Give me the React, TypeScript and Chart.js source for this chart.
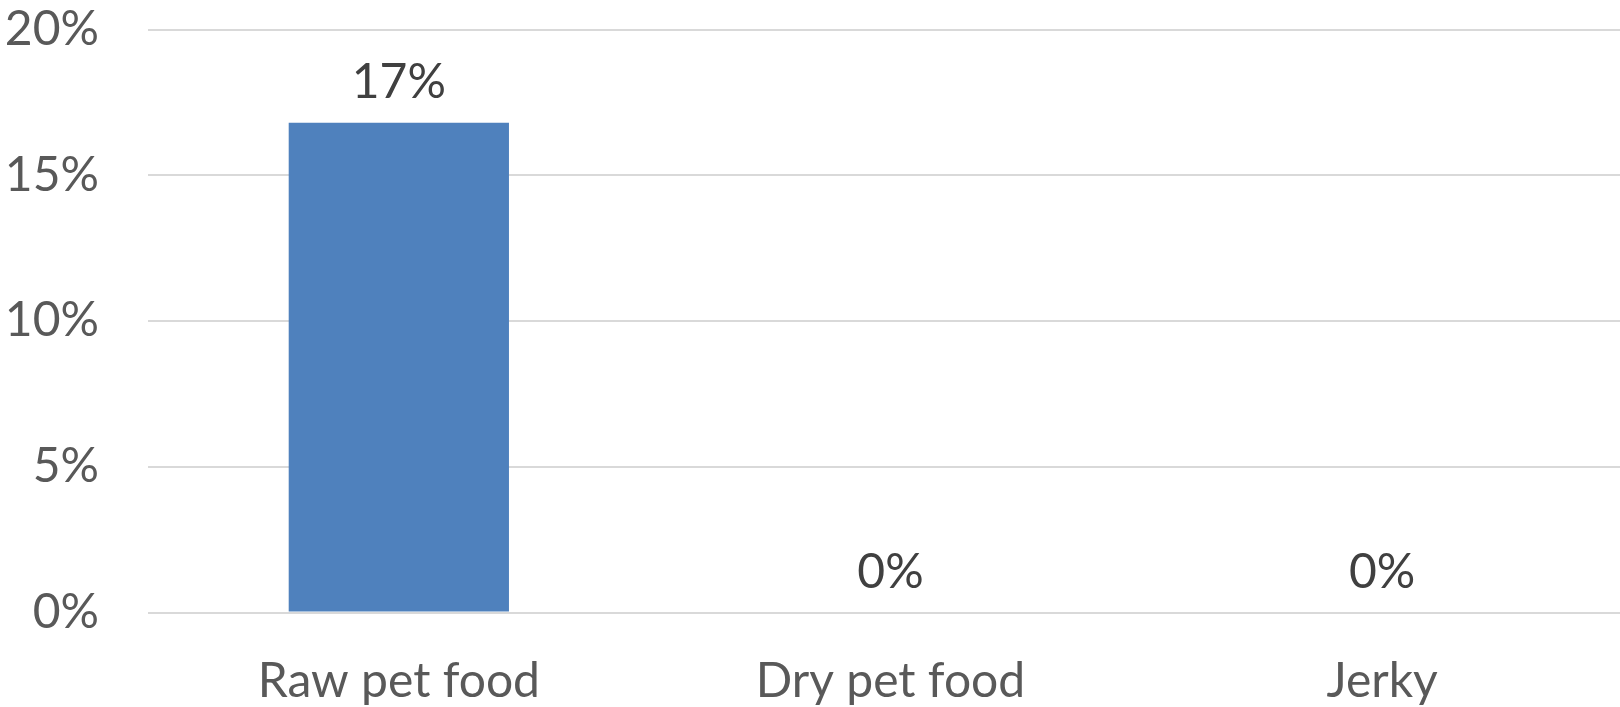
import React, { useEffect, useRef } from "react";
import { Chart, registerables } from "chart.js";

Chart.register(...registerables);

// Share of samples per product type
const categories: string[] = ["Raw pet food", "Dry pet food", "Jerky"];
const shares: number[] = [16.8, 0, 0];
const yTicks: number[] = [0, 5, 10, 15, 20];

const FONT = "Lato, 'Open Sans', sans-serif";

// Writes each bar's value (rounded to whole percent) just above the bar
const valueLabels = {
  id: "valueLabels",
  afterDatasetsDraw(chart: Chart) {
    const { ctx } = chart;
    const meta = chart.getDatasetMeta(0);
    ctx.save();
    ctx.font = `48px ${FONT}`;
    ctx.fillStyle = "#404040";
    ctx.textAlign = "center";
    ctx.textBaseline = "alphabetic";
    meta.data.forEach((el: any, i: number) => {
      const v = shares[i];
      ctx.fillText(`${Math.round(v)}%`, el.x, el.y - 25);
    });
    ctx.restore();
  },
};

export default function App() {
  const canvasRef = useRef<HTMLCanvasElement | null>(null);

  useEffect(() => {
    document.body.style.margin = "0";
    const canvas = canvasRef.current;
    if (!canvas) return;
    const chart = new Chart(canvas, {
      type: "bar",
      data: {
        labels: categories,
        datasets: [
          {
            data: shares,
            backgroundColor: "#4F81BD",
            borderWidth: 0,
            categoryPercentage: 1,
            barPercentage: 0.448,
          },
        ],
      },
      plugins: [valueLabels],
      options: {
        animation: false,
        responsive: false,
        maintainAspectRatio: false,
        layout: { padding: { top: 0, left: 0, right: 0, bottom: 0 } },
        plugins: {
          legend: { display: false },
          tooltip: { enabled: false },
        },
        scales: {
          x: {
            afterFit(scale: any) {
              scale.height = 94.5;
            },
            grid: { display: false },
            border: { display: false },
            ticks: {
              color: "#595959",
              font: { family: FONT, size: 48 },
              padding: 32,
              maxRotation: 0,
              minRotation: 0,
            },
          },
          y: {
            min: 0,
            max: 20,
            afterFit(scale: any) {
              scale.width = 153;
              scale.paddingTop = 29.5;
              scale.paddingBottom = 0;
            },
            afterBuildTicks(scale: any) {
              scale.ticks = yTicks.map((v) => ({ value: v }));
            },
            grid: {
              color: "#D9D9D9",
              lineWidth: 2,
              drawTicks: true,
              tickLength: 5,
            },
            border: { display: false },
            ticks: {
              color: "#595959",
              font: { family: FONT, size: 48 },
              padding: 49,
              callback: (v: any) => `${v}%`,
            },
          },
        },
      },
    });
    return () => chart.destroy();
  }, []);

  return (
    <div style={{ width: 1620, height: 707, overflow: "hidden" }}>
      <canvas ref={canvasRef} width={1628} height={707} style={{ display: "block" }} />
    </div>
  );
}
